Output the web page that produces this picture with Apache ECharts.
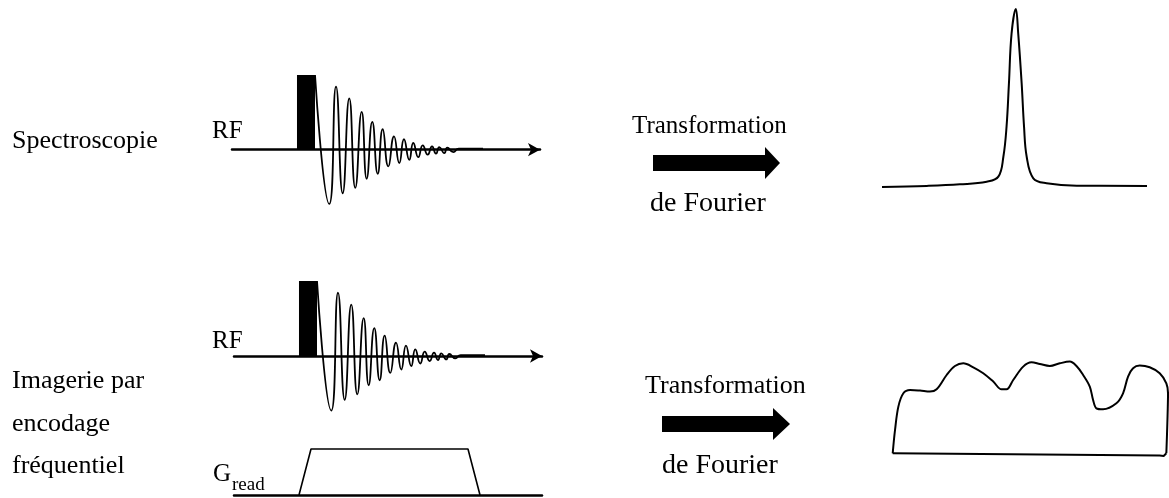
<!DOCTYPE html>
<html><head><meta charset="utf-8">
<script src="https://cdn.jsdelivr.net/npm/echarts@6/dist/echarts.min.js"></script>
<style>html,body{margin:0;padding:0;background:#fff}#c{width:1169px;height:498px}</style>
</head><body><div id="c"></div>
<script>
// ---- data (time / frequency in arbitrary units 0-100, amplitudes relative) ----
// RF excitation pulse: start, end, amplitude
const rfPulseTime = [21.1, 26.95];
const rfPulseAmp = 1;
// Free induction decay: extrema
const fidTime = [26.95, 31.59, 33.77, 35.94, 38.08, 40.03, 42.11, 43.73, 45.55, 47.31, 48.93, 50.75, 52.60, 54.32, 55.84, 57.56, 58.86, 60.49, 61.92, 63.54, 64.94, 66.23, 67.31, 68.93, 69.90, 71.85, 73.6, 81.5];
const fidAmp  = [1.0, -0.727, 0.843, -0.584, 0.686, -0.511, 0.506, -0.390, 0.371, -0.323, 0.273, -0.225, 0.179, -0.180, 0.139, -0.135, 0.089, -0.100, 0.058, -0.067, 0.044, -0.054, 0.035, -0.046, 0.027, -0.032, 0.013, 0.013];
// Readout gradient (trapezoid)
const gradTime = [21.1, 25.0, 75.97, 79.87];
const gradAmp  = [0, 1, 1, 0];
// Spectrum (single Lorentzian-like peak)
const specFreq = [0, 16.9, 29.4, 39.5, 43.9, 45.8, 47.0, 47.9, 48.9, 50.5, 51.4, 52.7, 53.6, 54.6, 57.1, 62.1, 73.5, 100];
const specInt  = [0, 0.006, 0.015, 0.030, 0.058, 0.170, 0.339, 0.582, 0.863, 1.0, 0.863, 0.582, 0.339, 0.170, 0.049, 0.021, 0.007, 0.006];
// Image profile (frequency encoded object)
const profFreq = [0, 0.84, 2.05, 3.86, 6.27, 9.88, 13.49, 15.9, 19.52, 22.53, 25.54, 29.16, 32.77, 36.39, 39.4, 41.2, 43.61, 47.23, 50.24, 53.25, 56.87, 60.48, 64.1, 66.51, 68.92, 71.33, 72.53, 73.73, 76.14, 80.96, 83.37, 85.18, 86.99, 89.4, 93.01, 96.63, 99.04, 99.64, 99.4, 99.04];
const profInt  = [0, 0.233, 0.467, 0.6, 0.633, 0.627, 0.617, 0.64, 0.783, 0.873, 0.9, 0.86, 0.8, 0.717, 0.64, 0.64, 0.733, 0.867, 0.91, 0.893, 0.873, 0.9, 0.917, 0.873, 0.783, 0.667, 0.533, 0.45, 0.44, 0.5, 0.6, 0.767, 0.85, 0.877, 0.86, 0.8, 0.7, 0.6, 0.3, 0];
const profBaseFreq = [99.04, 98.07, 96.63, 0];
const profBaseInt  = [0, -0.027, -0.023, 0];
// Texts
const txtSpectro = 'Spectroscopie';
const txtImage = ['Imagerie par', 'encodage', 'fréquentiel'];
const txtRF = 'RF';
const txtG = 'G';
const txtGsub = 'read';
const txtTF1 = 'Transformation';
const txtTF2 = 'de Fourier';

const zip = (a, b) => a.map((v, i) => [v, b[i]]);
const FONT = "'Liberation Serif', 'Times New Roman', 'DejaVu Serif', serif";
const BLACK = '#000';

const chart = echarts.init(document.getElementById('c'), null, {renderer: 'canvas'});

function hiddenAxis(min, max, extra) {
  return Object.assign({type: 'value', min: min, max: max, show: false,
    splitLine: {show: false}, axisLabel: {show: false}, axisTick: {show: false}}, extra || {});
}
function lineAxis(gi, arrow) {
  return {type: 'value', gridIndex: gi, min: 0, max: 100, show: true,
    axisLine: {show: true, onZero: true, symbol: arrow ? ['none', 'arrow'] : 'none', symbolSize: [10, 12],
      symbolOffset: [0, 0], lineStyle: {color: BLACK, width: 2.5}},
    axisTick: {show: false}, axisLabel: {show: false}, splitLine: {show: false}};
}
function text(str, x, y, size) {
  return {type: 'text', x: x, y: y, silent: true,
    style: {text: str, fill: BLACK, font: 'normal normal ' + size + 'px ' + FONT,
      verticalAlign: 'middle', align: 'left'}};
}
function bigArrow(x0, x1, x2, cy, half, headHalf) {
  return {type: 'polygon', silent: true,
    shape: {points: [[x0, cy - half], [x1, cy - half], [x1, cy - headHalf], [x2, cy], [x1, cy + headHalf], [x1, cy + half], [x0, cy + half]]},
    style: {fill: BLACK}};
}
const pulseArea = {silent: true, itemStyle: {color: BLACK, opacity: 1},
  data: [[{coord: [rfPulseTime[0], 0]}, {coord: [rfPulseTime[1], rfPulseAmp]}]]};

const lineSeries = (xi, data, width, smooth, extra) => Object.assign({
  type: 'line', xAxisIndex: xi, yAxisIndex: xi, data: data, symbol: 'none', showSymbol: false,
  smooth: smooth, clip: false, silent: true, lineStyle: {color: BLACK, width: width}}, extra || {});

chart.setOption({
  animation: false,
  backgroundColor: '#fff',
  grid: [
    {left: 232, top: 75, width: 308, height: 149.3},
    {left: 234, top: 281, width: 308, height: 150},
    {left: 234, top: 449, width: 308, height: 46},
    {left: 882, top: 9, width: 265, height: 178},
    {left: 892.7, top: 353.3, width: 276.7, height: 100}
  ],
  xAxis: [
    lineAxis(0, true), lineAxis(1, true), lineAxis(2, false),
    hiddenAxis(0, 100, {gridIndex: 3}), hiddenAxis(0, 100, {gridIndex: 4})
  ],
  yAxis: [
    hiddenAxis(-1, 1, {gridIndex: 0}), hiddenAxis(-1, 1, {gridIndex: 1}), hiddenAxis(0, 1, {gridIndex: 2}),
    hiddenAxis(0, 1, {gridIndex: 3}), hiddenAxis(0, 1, {gridIndex: 4})
  ],
  series: [
    lineSeries(0, zip(fidTime, fidAmp), 1.8, 0.55, {markArea: pulseArea}),
    lineSeries(1, zip(fidTime, fidAmp), 1.8, 0.55, {markArea: pulseArea}),
    lineSeries(2, zip(gradTime, gradAmp), 1.6, false),
    lineSeries(3, zip(specFreq, specInt), 2, 0.4),
    lineSeries(4, zip(profFreq, profInt), 2, 0.35),
    lineSeries(4, zip(profBaseFreq, profBaseInt), 2, false)
  ],
  graphic: [
    text(txtSpectro, 12, 141.2, 26),
    text(txtRF, 212, 131.5, 25),
    text(txtRF, 212, 341.5, 25),
    text(txtImage[0], 12, 381.2, 26),
    text(txtImage[1], 12, 424, 26),
    text(txtImage[2], 12, 466.2, 26),
    text(txtG, 213, 474.5, 25),
    text(txtGsub, 232, 485.5, 19),
    text(txtTF1, 632, 126.5, 25),
    text(txtTF2, 650, 203.5, 28),
    text(txtTF1, 645, 386.2, 26),
    text(txtTF2, 662, 465.5, 28),
    bigArrow(653, 765, 780, 163, 8, 16),
    bigArrow(662, 773, 790, 424, 8, 16)
  ]
});
</script></body></html>
